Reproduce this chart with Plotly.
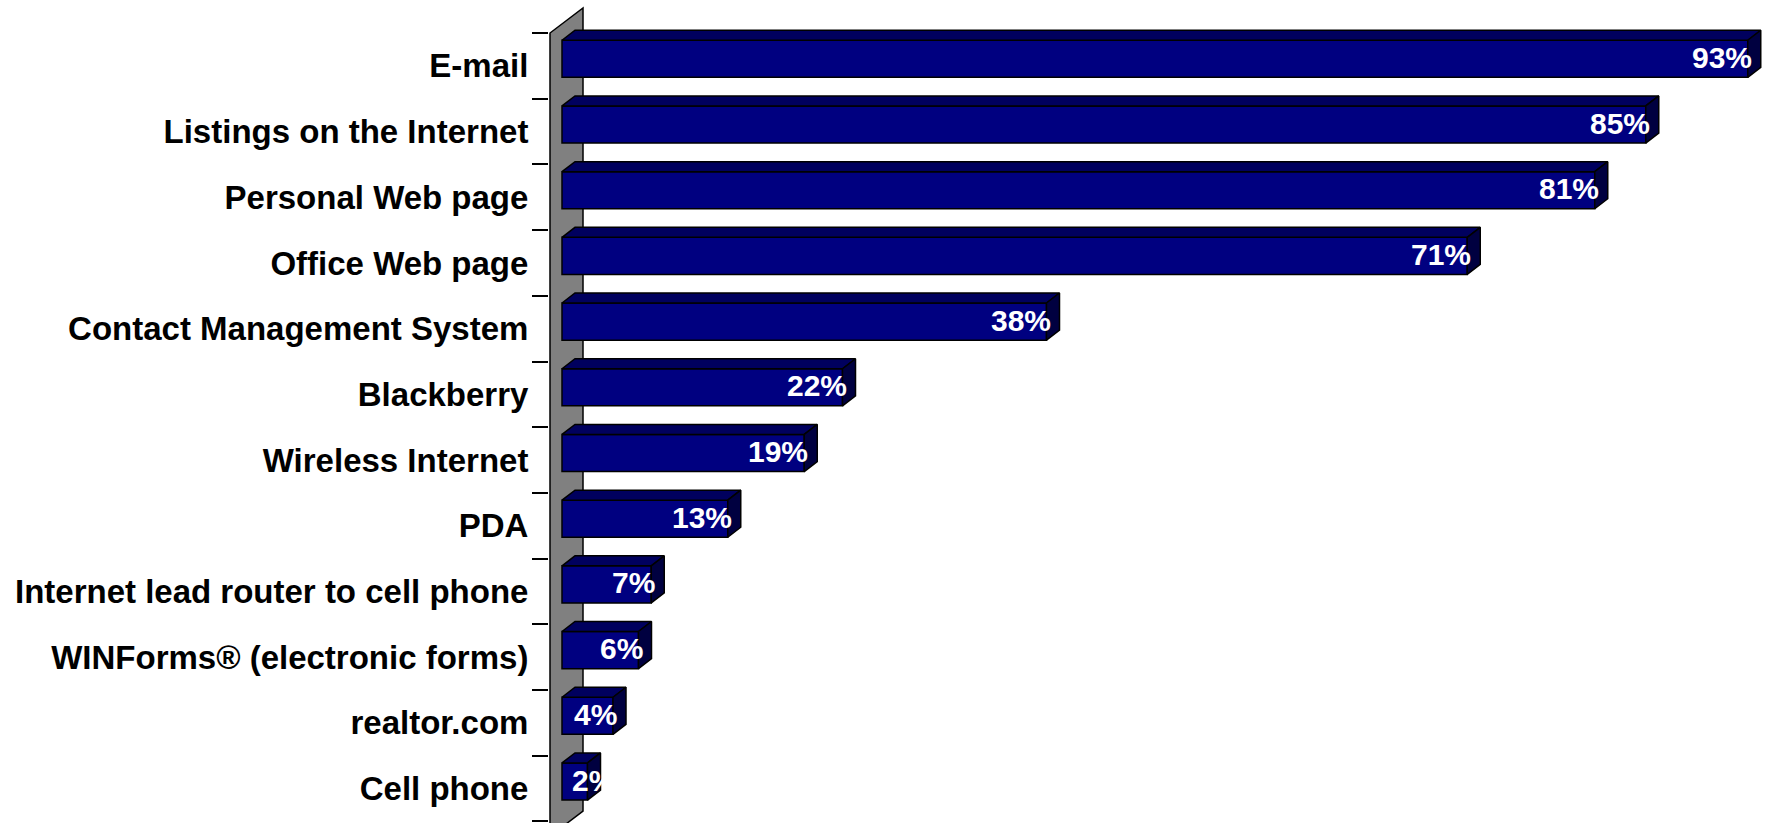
import plotly.graph_objects as go

# Share of respondents using each technology tool
categories = [
    "E-mail",
    "Listings on the Internet",
    "Personal Web page",
    "Office Web page",
    "Contact Management System",
    "Blackberry",
    "Wireless Internet",
    "PDA",
    "Internet lead router to cell phone",
    "WINForms® (electronic forms)",
    "realtor.com",
    "Cell phone",
]
values = [93, 85, 81, 71, 38, 22, 19, 13, 7, 6, 4, 2]
value_labels = [f"{v}%" for v in values]

W, H = 1769, 823
ML = 549                    # left margin (plot area starts at the wall's edge)
PX_PER_UNIT = 12.75         # horizontal pixels per percentage point
ZERO_PX = 562               # pixel position of the 0% baseline
X_MIN = (ML - ZERO_PX) / PX_PER_UNIT
X_MAX = (W - ZERO_PX) / PX_PER_UNIT

CAT_PX = 65.7               # vertical pixels per category
TOP_BOUNDARY_PX = 33
Y_TOP = (0 - TOP_BOUNDARY_PX) / CAT_PX - 0.5
Y_BOT = (H - TOP_BOUNDARY_PX) / CAT_PX - 0.5

# bar geometry (in category units)
BAR_OFFSET = -0.39
BAR_WIDTH = 0.565

# oblique depth of the 3-D bars, converted from pixels to data units
DX = 13 / PX_PER_UNIT
DY = -10 / CAT_PX

# depth of the back wall
WALL_X0 = (550 - ZERO_PX) / PX_PER_UNIT
WALL_X1 = (583 - ZERO_PX) / PX_PER_UNIT
WALL_DY = -25 / CAT_PX

FRONT = "#000080"
TOP = "#00005e"
SIDE = "#000040"
EDGE = "#000000"
FONT = "Liberation Sans, Arial, sans-serif"
LABEL_SIZE = 30

# approximate advance widths (em) of bold Arial glyphs used in the labels
GLYPH_EM = {"%": 0.889}


def label_width(text, size):
    return sum(GLYPH_EM.get(c, 0.556) for c in text) * size


n = len(categories)
ypos = list(range(n))

fig = go.Figure()

# front faces of the bars
fig.add_trace(go.Bar(
    x=values, y=ypos, orientation="h",
    base=0, offset=BAR_OFFSET, width=BAR_WIDTH,
    marker=dict(color=FRONT, line=dict(color=EDGE, width=1.5)),
    hoverinfo="skip", showlegend=False,
))

# top and side faces of the bars
top_x, top_y, side_x, side_y = [], [], [], []
for i, v in zip(ypos, values):
    y0 = i + BAR_OFFSET
    y1 = y0 + BAR_WIDTH
    top_x += [0, v, v + DX, DX, 0, None]
    top_y += [y0, y0, y0 + DY, y0 + DY, y0, None]
    side_x += [v, v + DX, v + DX, v, v, None]
    side_y += [y0, y0 + DY, y1 + DY, y1, y0, None]

fig.add_trace(go.Scatter(
    x=top_x, y=top_y, mode="lines", fill="toself", fillcolor=TOP,
    line=dict(color=EDGE, width=1.5), hoverinfo="skip", showlegend=False,
))
fig.add_trace(go.Scatter(
    x=side_x, y=side_y, mode="lines", fill="toself", fillcolor=SIDE,
    line=dict(color=EDGE, width=1.5), hoverinfo="skip", showlegend=False,
))

# grey back wall behind the bars
wall_top = -0.5
wall_bot = Y_BOT + 0.2
wall_path = (
    f"M {WALL_X0} {wall_bot} L {WALL_X0} {wall_top} "
    f"L {WALL_X1} {wall_top + WALL_DY} L {WALL_X1} {wall_bot + WALL_DY} Z"
)

# value labels at the end of each bar; short bars keep the label
# starting just inside the bar's left edge
annotations = []
for i, v, t in zip(ypos, values, value_labels):
    right_px = v * PX_PER_UNIT + 6
    if right_px - label_width(t, LABEL_SIZE) < 8:
        pos = dict(x=0, xanchor="left", xshift=8)
    else:
        pos = dict(x=v, xanchor="right", xshift=6)
    annotations.append(dict(
        y=i - 0.13, xref="x", yref="y",
        text=t, showarrow=False, yanchor="middle",
        font=dict(family=FONT, size=LABEL_SIZE, color="white", weight="bold"),
        **pos,
    ))

fig.update_layout(
    width=W, height=H,
    margin=dict(l=ML, r=0, t=0, b=0),
    paper_bgcolor="white", plot_bgcolor="white",
    showlegend=False,
    shapes=[dict(
        type="path", path=wall_path, xref="x", yref="y", layer="below",
        fillcolor="#808080", line=dict(color=EDGE, width=1.5),
    )],
    annotations=annotations,
    xaxis=dict(
        range=[X_MIN, X_MAX], visible=False, fixedrange=True,
    ),
    yaxis=dict(
        range=[Y_BOT, Y_TOP],
        tickmode="array", tickvals=ypos, ticktext=categories,
        ticks="outside", ticklen=13, tickcolor="rgba(0,0,0,0)",
        tickfont=dict(family=FONT, size=33, color="black", weight="bold"),
        showgrid=False, zeroline=False, showline=False,
        minor=dict(
            tickmode="linear", tick0=0.5, dtick=1,
            ticks="outside", ticklen=16, tickwidth=1.5, tickcolor="black",
            showgrid=False,
        ),
        fixedrange=True,
    ),
)

fig.write_html("out.html")
